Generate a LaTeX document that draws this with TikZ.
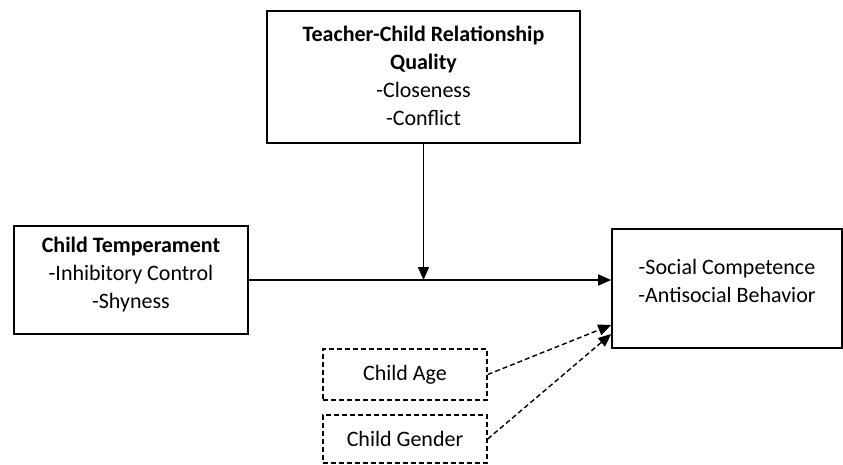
\documentclass[tikz,border=0pt]{standalone}
\usepackage{fontspec}
\setmainfont{Carlito}
\usepackage{tikz}
\usetikzlibrary{arrows.meta}

\begin{document}
\begin{tikzpicture}[x=1pt,y=-1pt,
    font=\fontsize{22}{28}\selectfont,
    box/.style={draw, line width=1.6pt, inner sep=0pt},
    covbox/.style={draw, line width=1.4pt, dash pattern=on 5pt off 3pt, inner sep=0pt,
        minimum width=164pt},
    arr/.style={line width=1.6pt, -{Triangle[length=13pt,width=11pt]}},
    darr/.style={line width=1.4pt, dash pattern=on 5pt off 3pt, -{Triangle[length=13pt,width=11pt]}}]
            \useasboundingbox (0,0) rectangle (843,465);
            % boxes
            \node[box, minimum width=313pt, minimum height=132pt] (tcr) at (423.5,77) {};
            \node[align=center] at (423.5,75.5) {\textbf{Teacher-Child Relationship}\\\textbf{Quality}\\-Closeness\\-Conflict};
            \node[box, minimum width=234pt, minimum height=108pt] (temp) at (131,280) {};
            \node[align=center] at (131,275) {\textbf{Child Temperament}\\-Inhibitory Control\\-Shyness};
            \node[box, minimum width=230pt, minimum height=119pt] (out) at (727,288.5) {};
            \node[align=center] at (727,280.5) {-Social Competence\\-Antisocial Behavior};
            \node[covbox, minimum height=51pt] (age) at (405,374.5) {Child Age};
            \node[covbox, minimum height=48pt] (gender) at (405,439) {Child Gender};
            % arrows
            \coordinate (mod) at (tcr.south |- temp.east);
            \coordinate (ina) at (out.south west |- 0,325);
            \coordinate (ing) at (out.south west |- 0,334);
            \draw[arr] (temp.east) -- (temp.east -| out.west);
            \draw[arr] (tcr.south) -- (mod);
            \draw[darr] (age.east) -- (ina);
            \draw[darr] (gender.east) -- (ing);
        \end{tikzpicture}
\end{document}
